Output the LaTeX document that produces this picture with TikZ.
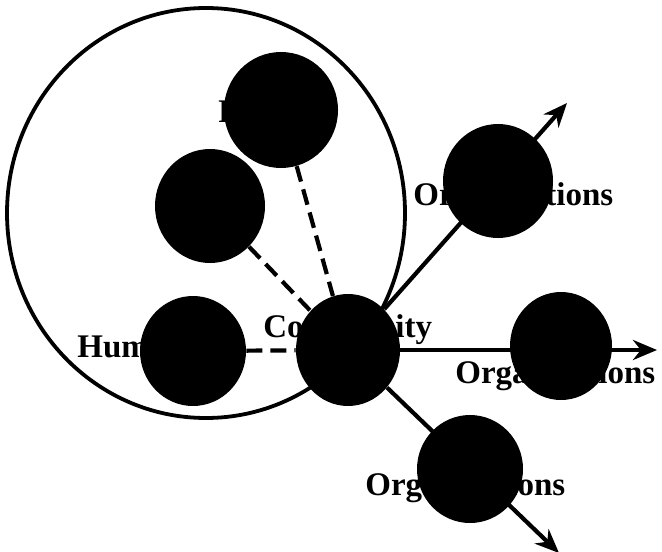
\documentclass[tikz,border=0pt]{standalone}
\usepackage{fontspec}
\setmainfont{Liberation Serif}
\usetikzlibrary{positioning,shapes.geometric,arrows.meta}
\pgfdeclarelayer{bg}
\pgfsetlayers{bg,main}

\begin{document}
\begin{tikzpicture}[x=0.5pt,y=-0.5pt,
    blob/.style={ellipse,fill=black,inner sep=0pt},
    lbl/.style={anchor=base west,inner sep=0pt,
                font=\rmfamily\fontsize{16.5}{18}\selectfont\bfseries},
    link/.style={line width=2.1pt,dash pattern=on 8pt off 4pt},
    outlink/.style={line width=2.1pt,-{Stealth[length=12pt,width=10pt]}}]
  \useasboundingbox (0,0) rectangle (662,551);
  % the big ring
  \node[draw,ellipse,line width=1.9pt,minimum width=199pt,minimum height=205pt,
        inner sep=0pt] (ring) at (206,213) {};
  % labels, partly hidden by the blobs
  \node[lbl] (famtxt)  at (218,122) {Families};
  \node[lbl] (humtxt)  at (77,357)  {Human};
  \node[lbl] (comtxt)  at (263,337) {Community};
  \node[lbl] (orgatxt) at (413,205) {Organizations};
  \node[lbl] (orgbtxt) at (455,383) {Organizations};
  \node[lbl] (orgctxt) at (365,495) {Organizations};
  % blobs
  \node[blob,minimum width=57pt,minimum height=58pt] (fam)  at (281,110) {};
  \node[blob,minimum width=55pt,minimum height=57pt] (grp)  at (210,206) {};
  \node[blob,minimum width=53pt,minimum height=55pt] (hum)  at (193,351) {};
  \node[blob,minimum width=52pt,minimum height=56pt] (com)  at (348,350) {};
  \node[blob,minimum width=55pt,minimum height=57pt] (orga) at (498,181) {};
  \node[blob,minimum width=51pt,minimum height=54pt] (orgb) at (561,346) {};
  \node[blob,minimum width=53pt,minimum height=54pt] (orgc) at (470,469) {};
  \coordinate (tipa) at (567,103);
  \coordinate (tipb) at (657,350);
  \coordinate (tipc) at (559,553);
  % connectors underneath
  \begin{pgfonlayer}{bg}
    \draw[link] (fam) -- (com);
    \draw[link] (grp) -- (com);
    \draw[link] (hum) -- (com);
    \draw[outlink] (com) -- (tipa);
    \draw[outlink] (com) -- (tipb);
    \draw[outlink] (com) -- (tipc);
  \end{pgfonlayer}
\end{tikzpicture}
\end{document}
